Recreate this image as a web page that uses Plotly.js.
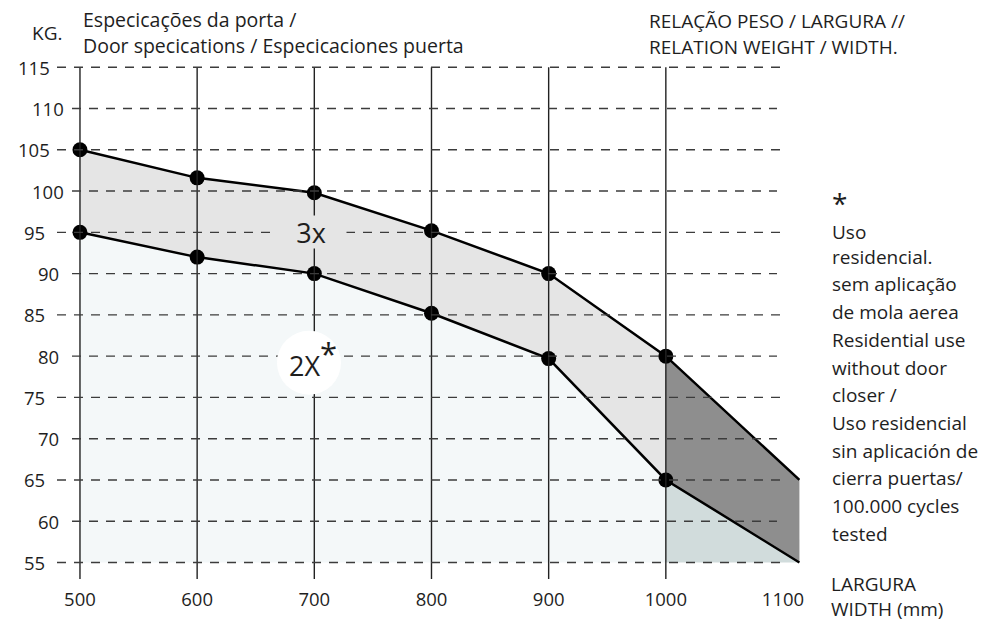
<!DOCTYPE html>
<html><head><meta charset="utf-8">
<script src="https://cdn.plot.ly/plotly-3.0.1.min.js"></script>
<style>html,body{margin:0;padding:0;background:#fff}</style>
</head><body><div id="chart" style="width:985px;height:621px"></div>
<script>
// ---- data ----
const widths = [500, 600, 700, 800, 900, 1000, 1114];
const upperKg = [105, 101.6, 99.8, 95.2, 90, 80, 65];
const lowerKg = [95, 92, 90, 85.2, 79.7, 65, 55];
const floorKg = 55;
const xTickVals = [500, 600, 700, 800, 900, 1000, 1100];
const xTickText = ['500', '600', '700', '800', '900', '1000', '1100'];
const yTickVals = [115, 110, 105, 100, 95, 90, 85, 80, 75, 70, 65, 60, 55];
const gridWidths = [500, 600, 700, 800, 900, 1000];
const footnoteLines = ['*', 'Uso', 'residencial.', 'sem aplicação', 'de mola aerea', 'Residential use',
  'without door', 'closer /', 'Uso residencial', 'sin aplicación de', 'cierra puertas/', '100.000 cycles', 'tested'];
const label3x = '3x';
const label2x = '2X<sup><span style="font-size:31px">*</span></sup>';

// ---- layout geometry ----
const W = 985, H = 621, L = 57, R = 185, T = 59, B = 42;
const PW = W - L - R, PH = H - T - B;
const xr = [480.4, 1114.5], yr = [53, 116];
const px = v => (v - L) / PW;             // pixel x -> paper
const py = v => (H - B - v) / PH;         // pixel y -> paper
const dx = p => xr[0] + (p - L) / PW * (xr[1] - xr[0]); // pixel x -> data x
const FONT = '"Open Sans", "Noto Sans", sans-serif';
const TXT = '#1e1e1e';

const n = widths.length;
const segA = [0, n - 1];       // 500..1000
const segB = [n - 2, n];       // 1000..end
const sl = (a, s) => a.slice(s[0], s[1]);
const markerSizes = widths.map((w, i) => i < n - 1 ? 15 : 0);

const traces = [
  {x: sl(widths, segA), y: sl(widths, segA).map(() => floorKg), mode: 'lines', line: {width: 0}, hoverinfo: 'skip'},
  {x: sl(widths, segA), y: sl(lowerKg, segA), mode: 'lines', line: {width: 0}, fill: 'tonexty', fillcolor: '#f4f8f9'},
  {x: sl(widths, segA), y: sl(upperKg, segA), mode: 'lines', line: {width: 0}, fill: 'tonexty', fillcolor: '#e5e5e5'},
  {x: sl(widths, segB), y: sl(widths, segB).map(() => floorKg), mode: 'lines', line: {width: 0}, hoverinfo: 'skip'},
  {x: sl(widths, segB), y: sl(lowerKg, segB), mode: 'lines', line: {width: 0}, fill: 'tonexty', fillcolor: '#d1dcdc'},
  {x: sl(widths, segB), y: sl(upperKg, segB), mode: 'lines', line: {width: 0}, fill: 'tonexty', fillcolor: '#8e8e8e'},
  {x: widths, y: lowerKg, mode: 'lines+markers', line: {color: '#000', width: 2.5},
   marker: {color: '#000', size: markerSizes, opacity: 1, line: {width: 0}}},
  {x: widths, y: upperKg, mode: 'lines+markers', line: {color: '#000', width: 2.5},
   marker: {color: '#000', size: markerSizes, opacity: 1, line: {width: 0}}}
];

const shapes = [];
gridWidths.forEach(w => shapes.push({type: 'line', xref: 'x', yref: 'y', x0: w, x1: w, y0: yr[0], y1: 115,
  line: {color: '#222', width: 1.4}, layer: 'above'}));
yTickVals.forEach(v => {
  const odd = v % 10 === 5;
  shapes.push({type: 'line', xref: 'x', yref: 'y', x0: dx(odd ? 57 : 72), x1: dx(odd ? 787 : 777), y0: v, y1: v,
    line: {color: '#3c3c3c', width: 1.4, dash: '9px,8px'}, layer: 'above'});
});
shapes.push({type: 'circle', xref: 'x', yref: 'y', xsizemode: 'pixel', ysizemode: 'pixel',
  xanchor: dx(309), yanchor: 79.2, x0: -32, x1: 32, y0: -32, y1: 32,
  fillcolor: '#ffffff', line: {width: 0}, layer: 'above'});

const annotations = [];
yTickVals.forEach(v => {
  const odd = v % 10 === 5;
  annotations.push({xref: 'paper', yref: 'y', x: px(odd ? 34 : 48), y: v, text: String(v), showarrow: false,
    xanchor: 'center', yanchor: 'middle', font: {family: FONT, size: 18.5, color: TXT}});
});
const txt = (text, x, y, size, anchor) => annotations.push({xref: 'paper', yref: 'paper', x: px(x), y: py(y),
  text, showarrow: false, xanchor: anchor || 'left', yanchor: 'middle', align: 'left',
  font: {family: FONT, size: size || 19, color: TXT}});
txt('KG.', 47, 33, 19, 'center');
txt('Especicações da porta /', 81, 19, 19.5);
txt('Door specications / Especicaciones puerta', 81, 45, 19.5);
txt('RELAÇÃO PESO / LARGURA //', 647, 21);
txt('RELATION WEIGHT / WIDTH.', 647, 47);
txt('LARGURA', 829, 584);
txt('WIDTH (mm)', 829, 609);
// footnote: star and first line in one block, the rest line by line
txt('<span style="font-size:28px">' + footnoteLines[0] + '</span><br>' + footnoteLines[1], 830, 214);
footnoteLines.slice(2).forEach((s, i) => txt(s, 830, 256.7 + i * 27.7, 19));
annotations.push({xref: 'x', yref: 'y', x: dx(311), y: 95, text: label3x, showarrow: false,
  bgcolor: '#e5e5e5', width: 68, height: 30, font: {family: FONT, size: 27, color: TXT}});
annotations.push({xref: 'x', yref: 'y', x: dx(313), y: 79.2, yshift: 5, text: label2x, showarrow: false,
  font: {family: FONT, size: 27, color: TXT}});

const layout = {
  width: W, height: H, margin: {l: L, r: R, t: T, b: B},
  paper_bgcolor: '#fff', plot_bgcolor: '#fff', showlegend: false,
  xaxis: {range: xr, tickvals: xTickVals, ticktext: xTickText, showgrid: false, zeroline: false, showline: false,
    ticks: '', ticklabelstandoff: 7, tickfont: {family: FONT, size: 18.5, color: TXT}, fixedrange: true},
  yaxis: {range: yr, visible: false, fixedrange: true},
  shapes, annotations
};
Plotly.newPlot('chart', traces, layout, {staticPlot: true});
</script></body></html>
